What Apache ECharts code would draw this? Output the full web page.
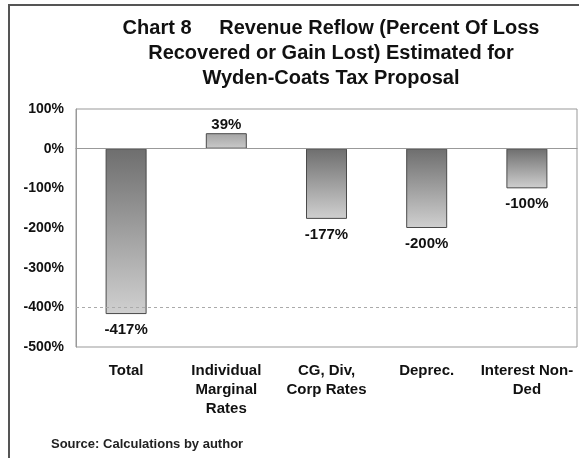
<!DOCTYPE html>
<html>
<head>
<meta charset="utf-8">
<script src="https://cdn.jsdelivr.net/npm/echarts@6/dist/echarts.min.js"></script>
<style>
  html, body {margin: 0; padding: 0; background: #fff;}
  #frame {position: absolute; left: 8px; top: 4px; width: 580px; height: 470px; border: 2px solid #555; box-sizing: border-box;}
  #chart {position: absolute; left: 0; top: 0; width: 579px; height: 458px;}
</style>
</head>
<body>
<div id="frame"></div>
<div id="chart"></div>
<script>
// categories and values
const categories = ['Total', 'Individual\nMarginal\nRates', 'CG, Div,\nCorp Rates', 'Deprec.', 'Interest Non-\nDed'];
const reflowValues = [-417, 39, -177, -200, -100];
const yTicks = {min: -500, max: 100, step: 100};

const chart = echarts.init(document.getElementById('chart'));

function barItem(v) {     //柱子样式: 上深下浅的灰色渐变
  return {
    value: v,
    label: {position: v < 0 ? 'bottom' : 'top', distance: v < 0 ? 8 : 1},
    itemStyle: {
      color: new echarts.graphic.LinearGradient(0, 0, 0, 1, v < 0 ? [
        {offset: 0, color: '#6e6e6e'},
        {offset: 1, color: '#d0d0d0'}
      ] : [
        {offset: 0, color: '#a4a4a4'},
        {offset: 1, color: '#cacaca'}
      ]),
      borderColor: '#4a4a4a',
      borderWidth: 1
    }
  };
}

chart.setOption({
  animation: false,
  textStyle: {fontFamily: 'Liberation Sans, Arial, sans-serif'},
  title: {
    text: 'Chart 8     Revenue Reflow (Percent Of Loss\nRecovered or Gain Lost) Estimated for\nWyden-Coats Tax Proposal',
    left: 326,
    textAlign: 'center',
    top: 11,
    textStyle: {fontSize: 20, fontWeight: 'bold', color: '#111', lineHeight: 25}
  },
  graphic: [{
    type: 'text',
    left: 51,
    top: 438,
    style: {text: 'Source: Calculations by author', font: 'bold 13px Liberation Sans, Arial, sans-serif', fill: '#222'}
  }],
  grid: {
    left: 76, right: 2, top: 109, bottom: 111,
    show: true, borderColor: '#999', borderWidth: 1
  },
  xAxis: {
    type: 'category',
    data: categories,
    axisTick: {show: false},
    axisLine: {show: true, lineStyle: {color: '#888'}},
    axisLabel: {color: '#111', fontSize: 15, fontWeight: 'bold', lineHeight: 19, margin: 14, interval: 0}
  },
  yAxis: {
    type: 'value',
    min: yTicks.min,
    max: yTicks.max,
    interval: yTicks.step,
    axisLine: {show: true, lineStyle: {color: '#999'}},
    axisTick: {show: false},
    splitLine: {show: false},
    axisLabel: {formatter: '{value}%', color: '#111', fontSize: 14, fontWeight: 'bold', margin: 12}
  },
  series: [{
    type: 'bar',
    barWidth: 41,
    data: reflowValues.map(barItem),
    label: {
      show: true,
      formatter: '{c}%',
      color: '#111',
      fontSize: 15,
      fontWeight: 'bold'
    },
    markLine: {
      silent: true,
      symbol: 'none',
      label: {show: false},
      data: [
        {yAxis: 0, lineStyle: {color: '#999', type: 'solid', width: 1}},
        {yAxis: -400, lineStyle: {color: '#aaa', type: [3, 3], width: 1}}
      ]
    }
  }]
});
</script>
</body>
</html>
